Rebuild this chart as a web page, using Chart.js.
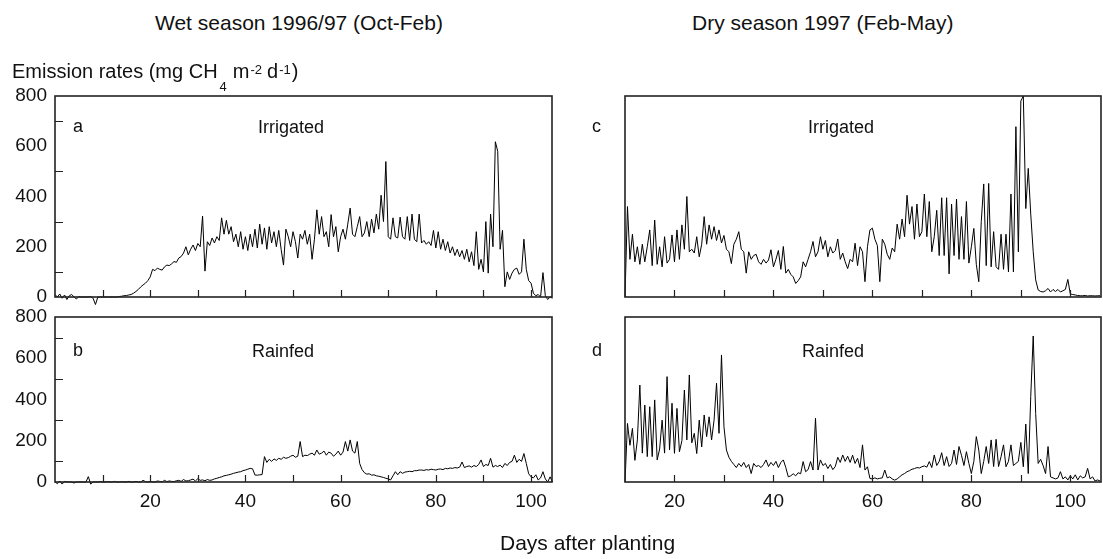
<!DOCTYPE html>
<html>
<head>
<meta charset="utf-8">
<script src="https://cdn.jsdelivr.net/npm/chart.js@4.4.1/dist/chart.umd.min.js"></script>
<style>
  body { margin: 0; width: 1103px; height: 559px; background: #fff; position: relative; overflow: hidden;
         font-family: "Liberation Sans", Arial, sans-serif; color: #111; }
  canvas { position: absolute; }
  .t { position: absolute; white-space: nowrap; font-size: 20px; line-height: 20px; }
  .big { font-size: 21px; line-height: 21px; }
  .lab { font-size: 18px; line-height: 18px; }
  .sub, .sup { position: relative; font-size: 13px; }
  .sub { top: 13px; margin: 0 6px 0 2px; }
  .sup { top: -4px; margin: 0 5px 0 1px; }
  .sup.last { margin-right: 1px; }
</style>
</head>
<body>
<canvas id="pa" width="562" height="241" style="left:0;top:76px"></canvas>
<canvas id="pb" width="562" height="245" style="left:0;top:297px"></canvas>
<canvas id="pc" width="543" height="241" style="left:560px;top:76px"></canvas>
<canvas id="pd" width="543" height="245" style="left:560px;top:297px"></canvas>

<div class="t big" style="left:155px;top:12px">Wet season 1996/97 (Oct-Feb)</div>
<div class="t big" style="left:692px;top:12px">Dry season 1997 (Feb-May)</div>
<div class="t" style="left:12px;top:61px">Emission rates (mg CH<span class="sub">4</span>m<span class="sup">-2</span>d<span class="sup last">-1</span>)</div>
<div class="t big" style="left:500px;top:532px">Days after planting</div>

<div class="t lab" style="left:73px;top:117px">a</div>
<div class="t lab" style="left:258px;top:118px">Irrigated</div>
<div class="t lab" style="left:73px;top:341px">b</div>
<div class="t lab" style="left:252px;top:342px">Rainfed</div>
<div class="t lab" style="left:592px;top:117px">c</div>
<div class="t lab" style="left:808px;top:118px">Irrigated</div>
<div class="t lab" style="left:592px;top:341px">d</div>
<div class="t lab" style="left:802px;top:342px">Rainfed</div>

<script>
// days between consecutive readings
const STEP = 0.5;

// wet season 1996/97, starts at day 0
const WET_START = 0;
const irrigatedWet = [
  10, 0, 12, -5, 8, -10, 5, 10, 0, -8, 2, 0, 0, 0, 0, 2, -5, -30, 0, 0,
  0, 0, 0, 0, 0, 0, 0, 2, 3, 5, 6, 8, 10, 15, 22, 30, 40, 48, 55, 65,
  80, 110, 105, 115, 110, 107, 120, 127, 125, 132, 141, 138, 155, 161, 175, 200, 168, 190, 207, 185,
  213, 200, 322, 103, 220, 205, 235, 215, 240, 225, 315, 250, 305, 250, 280, 220, 250, 200, 260, 190,
  240, 185, 250, 200, 270, 195, 290, 210, 275, 190, 280, 215, 260, 200, 265, 190, 127, 270, 240, 200,
  260, 220, 155, 250, 230, 265, 210, 250, 150, 230, 347, 250, 320, 240, 260, 200, 328, 240, 280, 180,
  240, 270, 230, 290, 354, 250, 240, 280, 320, 240, 255, 300, 240, 310, 255, 330, 270, 405, 300, 539,
  240, 230, 315, 240, 235, 318, 240, 230, 320, 225, 330, 230, 220, 330, 215, 225, 210, 220, 205, 265,
  195, 260, 190, 230, 185, 220, 175, 200, 165, 190, 160, 185, 150, 190, 140, 180, 125, 260, 110, 150,
  100, 300, 95, 330, 200, 618, 580, 190, 265, 41, 100, 70, 95, 110, 115, 90, 100, 230, 110, 65,
  55, 15, 5, 10, 0, 97, 5, -10, 0, -5
];
const rainfedWet = [
  0, -8, 5, -10, 3, 0, 0, 0, -5, 0, 0, 0, 0, 0, 26, -10, 0, 0, 0, 2,
  0, 0, 2, 0, 0, 3, 0, 0, 2, 0, 0, 3, 0, 0, 3, 0, 0, 8, 2, 0,
  3, 0, 0, 5, 3, 0, 8, 2, 5, 3, 2, 6, 8, 3, 12, 5, 6, 10, 14, 5,
  16, 8, 10, 6, 12, 8, 10, 15, 18, 22, 25, 30, 32, 35, 38, 42, 45, 48, 50, 55,
  58, 62, 66, 64, 34, 33, 35, 36, 123, 95, 110, 100, 112, 105, 115, 110, 120, 115, 118, 125,
  130, 120, 125, 196, 123, 130, 128, 135, 140, 130, 155, 135, 140, 150, 130, 145, 140, 125, 135, 150,
  130, 145, 196, 150, 204, 150, 140, 196, 90, 60, 45, 38, 40, 33, 35, 30, 28, 25, 22, 18,
  15, 10, 30, 50, 35, 50, 42, 48, 50, 52, 50, 55, 55, 58, 58, 56, 60, 58, 62, 60,
  58, 62, 63, 60, 66, 64, 68, 66, 70, 68, 72, 97, 70, 75, 78, 72, 80, 75, 85, 107,
  75, 85, 80, 115, 72, 80, 75, 82, 70, 90, 80, 95, 100, 130, 95, 110, 100, 138, 90, 40,
  25, 20, 35, 10, 20, 50, 15, 0, 25, 0
];

// dry season 1997, starts at day 10
const DRY_START = 10;
const irrigatedDry = [
  0, 360, 150, 250, 140, 200, 130, 210, 140, 200, 267, 125, 306, 130, 200, 120, 240, 135, 150, 247,
  140, 267, 150, 287, 190, 400, 180, 190, 175, 240, 160, 210, 320, 210, 287, 230, 280, 225, 267, 215,
  245, 190, 180, 133, 210, 230, 260, 190, 180, 95, 180, 150, 165, 170, 140, 130, 150, 135, 147, 188,
  120, 150, 185, 110, 201, 95, 110, 90, 80, 54, 65, 80, 140, 120, 150, 180, 221, 160, 180, 240,
  190, 225, 160, 200, 175, 185, 231, 150, 175, 140, 113, 150, 140, 214, 125, 200, 180, 61, 200, 267,
  274, 230, 205, 61, 230, 210, 170, 150, 195, 180, 290, 230, 310, 240, 405, 290, 360, 230, 370, 240,
  260, 410, 240, 380, 180, 240, 345, 165, 395, 165, 395, 92, 370, 165, 390, 150, 320, 150, 380, 135,
  200, 273, 130, 61, 300, 450, 125, 452, 120, 260, 120, 110, 250, 110, 250, 100, 410, 100, 678, 180,
  780, 800, 352, 512, 330, 180, 68, 28, 22, 20, 25, 34, 20, 30, 22, 30, 20, 25, 30, 70,
  12, 10, 8, 6, 5, 5, 6, 4, 5, 5, 4, 5, 5
];
const rainfedDry = [
  0, 284, 178, 260, 105, 204, 470, 140, 373, 123, 365, 123, 398, 107, 160, 300, 140, 511, 155, 382,
  139, 357, 147, 200, 446, 204, 519, 190, 236, 138, 300, 170, 325, 220, 316, 204, 300, 479, 236, 616,
  268, 155, 120, 100, 85, 70, 90, 75, 95, 70, 85, 41, 90, 75, 80, 70, 85, 107, 75, 95,
  80, 100, 70, 95, 107, 70, 25, 30, 40, 30, 45, 40, 99, 50, 60, 99, 58, 309, 58, 107,
  80, 90, 65, 85, 60, 75, 120, 95, 131, 100, 125, 95, 130, 90, 115, 70, 180, 58, 74, 17,
  15, 20, 15, 18, 20, 58, 20, 25, 15, 9, 15, 25, 35, 41, 50, 55, 62, 65, 70, 68,
  74, 78, 72, 99, 70, 131, 80, 100, 142, 80, 123, 75, 90, 155, 85, 172, 130, 80, 147, 90,
  41, 100, 220, 155, 41, 100, 172, 90, 204, 75, 207, 75, 123, 180, 74, 100, 180, 80, 90, 100,
  192, 74, 281, 41, 414, 708, 332, 90, 110, 80, 41, 172, 25, 20, 15, 20, 50, 15, 25, 10,
  30, 15, 35, 10, 30, 20, 25, 66, 15, 25, 5, 10, 5
];

const Y_TICKS = { min: 0, max: 800, step: 100 };

Chart.defaults.font.family = "'Liberation Sans', Arial, sans-serif";
Chart.defaults.color = '#111';

// box round the plot area, with inward tick marks
const framePlugin = {
  id: 'frame',
  afterDatasetsDraw(chart, args, opts) {
    const { ctx, chartArea: a, scales } = chart;
    ctx.save();
    ctx.strokeStyle = '#222';
    ctx.lineWidth = 1.2;
    ctx.beginPath();
    scales.x.ticks.forEach(t => {
      if (t.value <= scales.x.min || t.value >= scales.x.max) return;
      const px = Math.round(scales.x.getPixelForValue(t.value)) + 0.5;
      ctx.moveTo(px, a.bottom);
      ctx.lineTo(px, a.bottom - 7);
    });
    if (opts.yTicks) {
      scales.y.ticks.forEach(t => {
        if (t.value % 200 !== 100) return;
        const py = Math.round(scales.y.getPixelForValue(t.value)) + 0.5;
        ctx.moveTo(a.left, py);
        ctx.lineTo(a.left + 8, py);
      });
    }
    ctx.stroke();
    ctx.lineWidth = 1.6;
    ctx.strokeRect(a.left, a.top, a.right - a.left, a.bottom - a.top);
    ctx.restore();
  }
};

function makePanel(id, rates, start, xMin, xMax, opts) {
  const points = rates.map((v, i) => ({ x: start + i * STEP, y: v }));
  return new Chart(document.getElementById(id), {
    type: 'line',
    data: {
      datasets: [{
        data: points,
        borderColor: '#000',
        borderWidth: 1,
        pointRadius: 0,
        tension: 0,
        fill: false,
        clip: false,
      }],
    },
    options: {
      responsive: false,
      animation: false,
      events: [],
      layout: { padding: opts.padding },
      plugins: {
        legend: { display: false },
        tooltip: { enabled: false },
        frame: { yTicks: opts.yAxis },
      },
      scales: {
        x: {
          type: 'linear',
          min: xMin,
          max: xMax,
          afterFit: s => { s.height = opts.xHeight; },
          grid: { display: false, drawTicks: false },
          border: { display: false },
          ticks: {
            display: opts.xLabels,
            stepSize: 10,
            includeBounds: false,
            autoSkip: false,
            maxRotation: 0,
            padding: 8,
            font: { size: 19 },
            callback: v => (v > 0 && v % 20 === 0 ? v : ''),
          },
        },
        y: {
          display: opts.yAxis,
          min: Y_TICKS.min,
          max: Y_TICKS.max,
          afterFit: s => { s.width = 55; },
          grid: { display: false, drawTicks: false },
          border: { display: false },
          ticks: {
            stepSize: Y_TICKS.step,
            autoSkip: false,
            padding: 8,
            font: { size: 19 },
            callback: v => (v % 200 === 0 ? v : ''),
          },
        },
      },
    },
    plugins: [framePlugin],
  });
}

makePanel('pa', irrigatedWet, WET_START, 0, 104.4,
  { padding: { top: 20, right: 10, left: 0, bottom: 0 }, xHeight: 20, xLabels: false, yAxis: true });
makePanel('pb', rainfedWet, WET_START, 0, 104.4,
  { padding: { top: 20, right: 10, left: 0, bottom: 0 }, xHeight: 60, xLabels: true, yAxis: true });
makePanel('pc', irrigatedDry, DRY_START, 10, 106.2,
  { padding: { top: 20, right: 2, left: 10, bottom: 0 }, xHeight: 20, xLabels: false, yAxis: false });
makePanel('pd', rainfedDry, DRY_START, 10, 106.2,
  { padding: { top: 20, right: 2, left: 10, bottom: 0 }, xHeight: 60, xLabels: true, yAxis: false });
</script>
</body>
</html>
